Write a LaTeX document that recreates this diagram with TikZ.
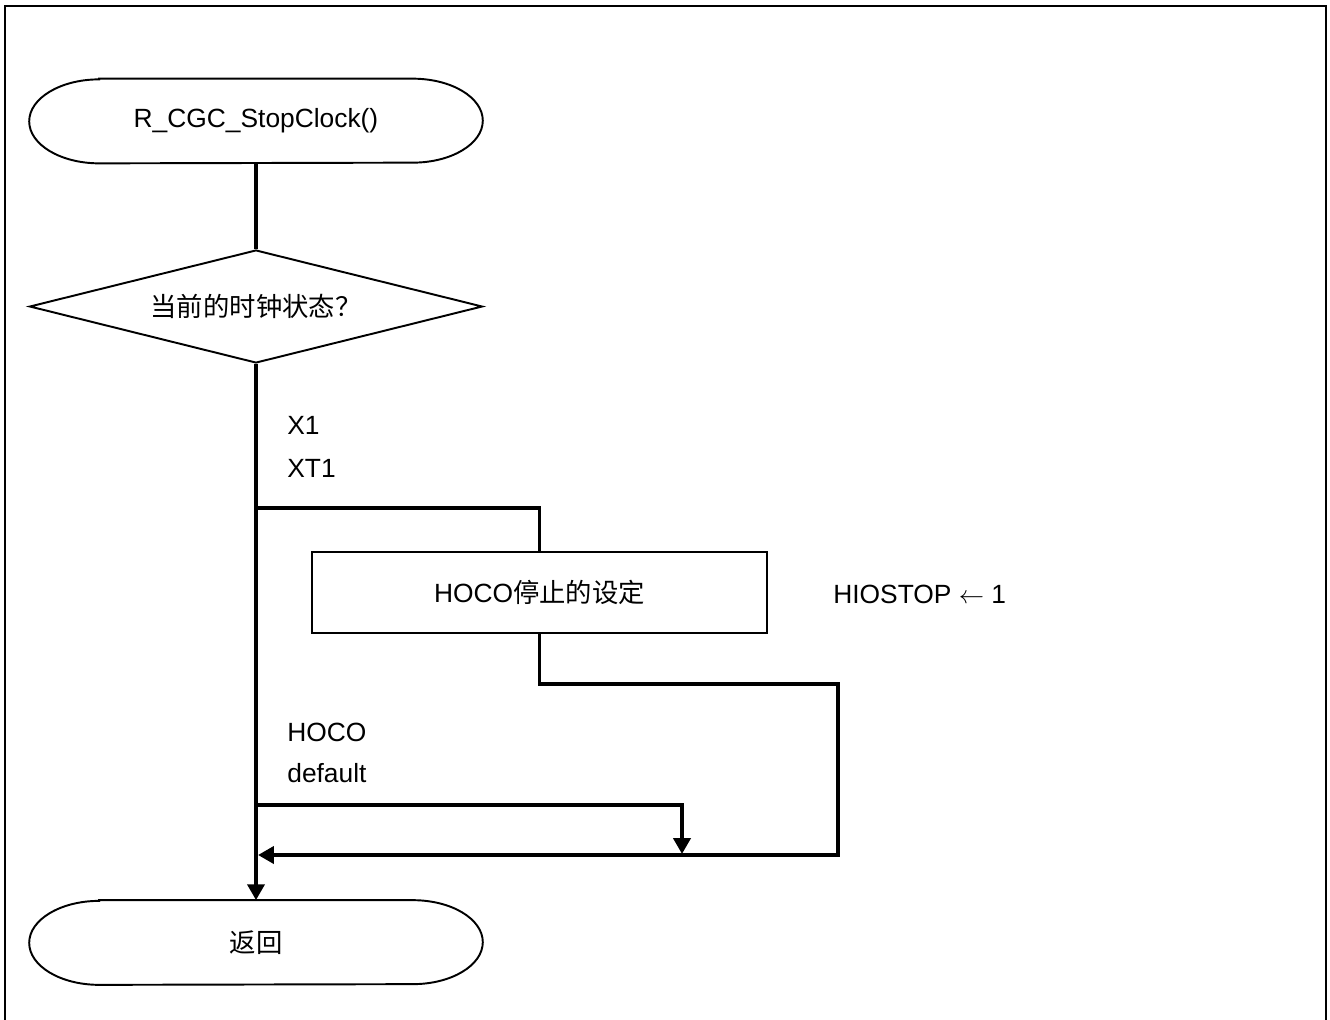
\documentclass[tikz,border=0pt]{standalone}
\usepackage{fontspec}
\setmainfont{Liberation Sans}
\newfontfamily\cjk{Noto Sans CJK SC}
\usetikzlibrary{arrows.meta,shapes.geometric,positioning}

\begin{document}
\begin{tikzpicture}[
  x=0.02cm, y=-0.02cm,
  every node/.style={font=\fontsize{15}{18}\selectfont},
  termbox/.style={rectangle, minimum width=9.06cm, minimum height=1.68cm,
    inner sep=0pt},
  decbox/.style={diamond, draw, line width=1.1pt, aspect=4, inner sep=0pt,
    minimum width=9.06cm, minimum height=2.26cm},
  procbox/.style={rectangle, draw, line width=1.1pt,
    minimum width=9.1cm, minimum height=1.62cm},
  lbl/.style={anchor=west, inner sep=0pt},
  outline/.style={line width=1.1pt},
  flow/.style={line width=2.2pt},
  arr/.style={-{Triangle[length=9pt,width=9.6pt]}},
]
\useasboundingbox (0,0) rectangle (1330,1019);

% Frame
\draw[line width=1.6pt] (5,6) rectangle (1326,1040);

% Shapes
\node[termbox] (start) at (256,121) {R\_CGC\_StopClock()};
\node[decbox] (ask) at (256,306.5) {{\cjk 当前的时钟状态？}};
\node[procbox] (hoco) at (539.5,592.5) {HOCO{\cjk 停止的设定}};
\node[termbox] (ret) at (256,942.5) {{\cjk 返回}};

% Terminal outlines
\foreach \t in {start,ret} {
  \draw[outline] ([xshift=1.4cm]\t.north west) -- ([xshift=-1.4cm]\t.north east)
    arc[start angle=90, end angle=-90, x radius=1.4cm, y radius=0.84cm]
    -- ([xshift=1.4cm]\t.south west)
    arc[start angle=270, end angle=90, x radius=1.4cm, y radius=0.84cm] -- cycle;
}

% Labels
\node[lbl] (lx1) at (287,425) {X1};
\node[lbl] (lxt1) at (287,468) {XT1};
\node[lbl] (lhoco) at (287,732) {HOCO};
\node[lbl] (ldef) at (287,773) {default};
\node[lbl] (lset) at (833,594) {HIOSTOP $\leftarrow$ 1};

% Branch points
\coordinate (b1) at (256,508);
\coordinate (b2) at (256,805);
\coordinate (c1) at (838,684);
\coordinate (d1) at (682,854);
\coordinate (join) at (258,855);

% Connectors
\draw[flow] (start) -- (ask);
\draw[flow,arr] (ask) -- (ret);
\draw[flow] (b1) -| (hoco.north);
\draw[flow,arr] (hoco.south) |- (c1) |- (join);
\draw[flow,arr] (b2) -| (d1);

\end{tikzpicture}
\end{document}
